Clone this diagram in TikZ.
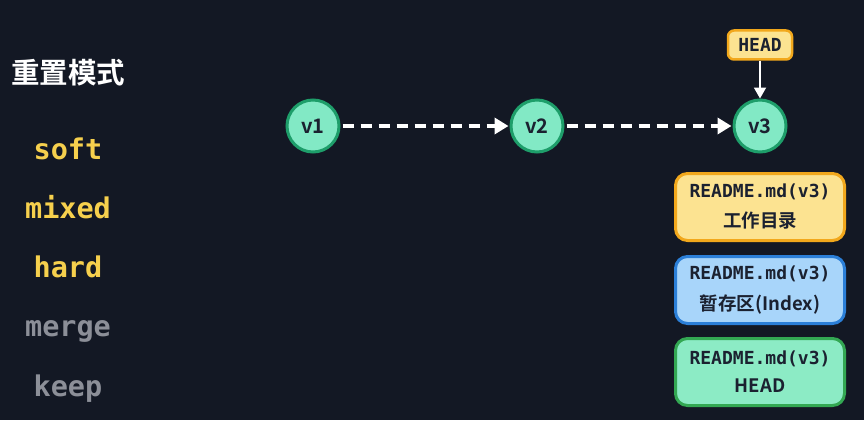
\documentclass[tikz,border=0pt]{standalone}
\usepackage{fontspec}
\setmainfont{Noto Sans CJK SC}[BoldFont={* Bold}]
\newfontfamily\cjkb{Noto Sans CJK SC Bold}
\newfontfamily\monob{DejaVu Sans Mono Bold}
\usetikzlibrary{arrows.meta}
\definecolor{bg}{HTML}{131824}
\definecolor{ink}{HTML}{1B2130}
\definecolor{modeY}{HTML}{F6D04D}
\definecolor{modeG}{HTML}{8C8F98}
\definecolor{mint}{HTML}{82E9C5}
\definecolor{mintline}{HTML}{1E9E6A}
\definecolor{yfill}{HTML}{FCE391}
\definecolor{yline}{HTML}{F2A81C}
\definecolor{bfill}{HTML}{A8D5FA}
\definecolor{bline}{HTML}{2B7FD8}
\definecolor{gfill}{HTML}{8CEBC5}
\definecolor{gline}{HTML}{33A853}
\tikzset{
  commit/.style={circle, fill=mint, draw=mintline, line width=3pt, minimum size=52pt, inner sep=0pt, text=ink, font=\cjkb\fontsize{20}{20}\selectfont},
  modeon/.style={anchor=base, text=modeY, font=\monob\fontsize{28.5}{28.5}\selectfont},
  modeoff/.style={anchor=base, text=modeG, font=\monob\fontsize{28.5}{28.5}\selectfont},
  areabox/.style={rounded corners=12pt, line width=3pt, minimum width=169pt, minimum height=67pt, text=ink, align=center, inner sep=0pt},
  dasharrow/.style={white, line width=4pt, dash pattern=on 11pt off 7pt, -{Triangle[length=14pt,width=16pt]}, shorten >=1pt, shorten <=2pt},
}
\begin{document}
\begin{tikzpicture}[x=1pt,y=-1pt]
\fill[bg] (0,0) rectangle (864,420);
\useasboundingbox (0,0) rectangle (864,420);

\node[text=white, font=\cjkb\fontsize{28.5}{28.5}\selectfont] (title) at (68,73) {重置模式};
\node[modeon] (soft) at (68,159) {soft};
\node[modeon] (mixed) at (68,218) {mixed};
\node[modeon] (hard) at (68,277) {hard};
\node[modeoff] (merge) at (68,336) {merge};
\node[modeoff] (keep) at (68,396) {keep};

\node[commit] (v1) at (313,126) {v1};
\node[commit] (v2) at (537,126) {v2};
\node[commit] (v3) at (760,126) {v3};

\draw[dasharrow] (v1) -- (v2);
\draw[dasharrow] (v2) -- (v3);

\node[rounded corners=6pt, fill=yfill, draw=yline, line width=2.5pt, minimum width=64pt, minimum height=29pt, inner sep=0pt, text=ink, font=\monob\fontsize{18}{18}\selectfont] (head) at (760,45) {HEAD};
\draw[white, line width=1.8pt, -{Triangle[length=11pt,width=12pt]}] (head) -- (v3);

\node[areabox, fill=yfill, draw=yline] (wd) at (760,207) {{\monob\fontsize{18}{18}\selectfont README.md(v3)}\\[11pt]{\cjkb\fontsize{18.5}{18.5}\selectfont 工作目录}};
\node[areabox, fill=bfill, draw=bline] (idx) at (760,290) {{\monob\fontsize{18}{18}\selectfont README.md(v3)}\\[11pt]{\cjkb\fontsize{18.5}{18.5}\selectfont 暂存区(Index)}};
\node[areabox, fill=gfill, draw=gline] (hd) at (760,372) {{\monob\fontsize{18}{18}\selectfont README.md(v3)}\\[11pt]{\cjkb\fontsize{18.5}{18.5}\selectfont HEAD}};
\end{tikzpicture}
\end{document}
